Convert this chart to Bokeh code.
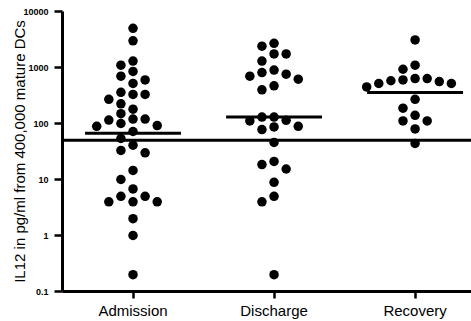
import numpy as np
from bokeh.plotting import figure
from bokeh.models import Range1d, FixedTicker, CustomJSTickFormatter, Span
from bokeh.embed import file_html
from bokeh.resources import INLINE

# ---------------- data ----------------
groups = ["Admission", "Discharge", "Recovery"]
admission = [5000, 3000, 1300, 1100, 850, 700, 600, 520, 360, 330, 330, 270, 225,
             180, 150, 120, 120, 115, 100, 92, 89, 72, 54, 41, 33, 30, 14.5, 10,
             6.8, 5, 5, 4, 4, 4, 2, 1, 0.2]
discharge = [2700, 2400, 1750, 1750, 1300, 900, 810, 760, 700, 620, 470, 400,
             130, 130, 114, 111, 89, 87, 78, 46, 21, 18.5, 15.4, 8.9, 5, 4, 0.2]
recovery = [3100, 1100, 930, 635, 635, 600, 580, 560, 518, 518, 450, 270, 188,
            140, 111, 111, 80, 44]
threshold = 50
y_ticks = [0.1, 1, 10, 100, 1000, 10000]
y_label = "IL12 in pg/ml from 400,000 mature DCs"

# ---------------- layout ----------------
W, H = 471, 321
BORDER_L, BORDER_R, BORDER_T, BORDER_B = 62, 0, 11, 27
X0, X1 = 0.5, 3.4
Y0, Y1 = 0.1, 10000
FRAME_W = W - BORDER_L - BORDER_R
FRAME_H = H - BORDER_T - BORDER_B
DOT = 9.5
STEP_PX = 12.1
HALF_BAR = 0.34
FONT = "Liberation Sans"

p = figure(width=W, height=H, y_axis_type="log", output_backend="svg",
           toolbar_location=None, x_range=Range1d(X0, X1), y_range=Range1d(Y0, Y1),
           min_border_left=BORDER_L, min_border_right=BORDER_R,
           min_border_top=BORDER_T, min_border_bottom=BORDER_B)
p.outline_line_color = None
p.grid.visible = False
p.background_fill_color = "white"
p.border_fill_color = "white"

px_per_decade = FRAME_H / (np.log10(Y1) - np.log10(Y0))
units_per_px = (X1 - X0) / FRAME_W


def swarm(vals):
    vals = np.asarray(vals, dtype=float)
    ys = np.log10(vals) * px_per_decade
    order = np.argsort(-vals, kind="stable")
    placed = []
    offs = np.zeros(len(vals))
    for i in order:
        for k in [0, -1, 1, -2, 2, -3, 3, -4, 4, -5, 5]:
            if all(not (s == k and abs(ys[i] - y) < DOT) for s, y in placed):
                break
        placed.append((k, ys[i]))
        offs[i] = k
    return offs * STEP_PX * units_per_px


xs, ys = [], []
mx0, mx1, my = [], [], []
for gi, vals in enumerate([admission, discharge, recovery], start=1):
    off = swarm(vals)
    xs.extend(list(gi + off))
    ys.extend(vals)
    gm = 10 ** np.mean(np.log10(vals))
    mx0.append(gi - HALF_BAR)
    mx1.append(gi + HALF_BAR)
    my.append(gm)

p.add_layout(Span(location=threshold, dimension="width", line_color="black",
                  line_width=3))
p.segment(x0=mx0, x1=mx1, y0=my, y1=my, line_color="black", line_width=3)
p.scatter(x=xs, y=ys, size=DOT, fill_color="black", line_color=None)

# x axis
xa = p.xaxis[0]
xa.ticker = FixedTicker(ticks=[1, 2, 3])
xa.major_label_overrides = {i + 1: g for i, g in enumerate(groups)}
xa.minor_tick_line_color = None
xa.major_tick_in = 0
xa.major_tick_out = 7
xa.major_tick_line_width = 2.5
xa.axis_line_width = 3
xa.major_label_standoff = 3
xa.major_label_text_font = FONT
xa.major_label_text_font_size = "15px"
xa.major_label_text_color = "black"

# y axis
ya = p.yaxis[0]
ya.ticker = FixedTicker(ticks=y_ticks)
ya.formatter = CustomJSTickFormatter(code="return tick < 1 ? tick.toFixed(1) : tick.toFixed(0);")
ya.minor_tick_line_color = None
ya.major_tick_in = 0
ya.major_tick_out = 8
ya.major_tick_line_width = 2.5
ya.axis_line_width = 3
ya.major_label_standoff = 6
ya.major_label_text_font = FONT
ya.major_label_text_font_style = "bold"
ya.major_label_text_font_size = "9px"
ya.major_label_text_color = "black"
ya.axis_label = y_label
ya.axis_label_standoff = -8
ya.axis_label_text_font = FONT
ya.axis_label_text_font_style = "normal"
ya.axis_label_text_font_size = "15px"
ya.axis_label_text_color = "black"

open("out.html", "w").write(file_html(p, INLINE))
